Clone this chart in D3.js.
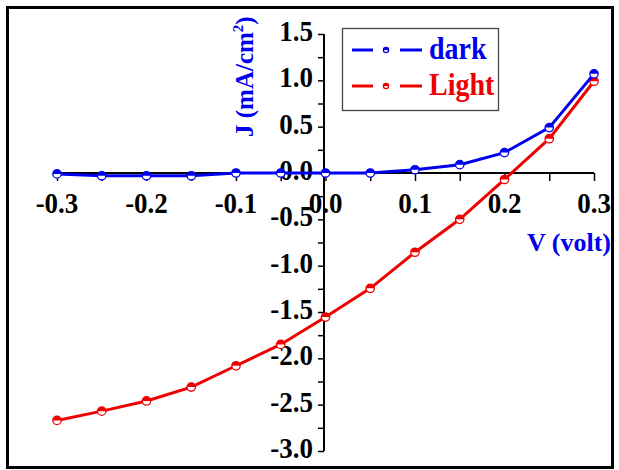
<!DOCTYPE html>
<html><head><meta charset="utf-8">
<script src="https://cdn.jsdelivr.net/npm/d3@7"></script>
<style>body{margin:0;background:#fff}svg{display:block}</style>
</head><body>
<svg id="c" width="619" height="470"></svg>
<script>
const voltage = [-0.3,-0.25,-0.2,-0.15,-0.1,-0.05,0,0.05,0.1,0.15,0.2,0.25,0.3];
const darkJ  = [-0.01,-0.03,-0.03,-0.03,0.0,0.0,0.0,0.0,0.035,0.09,0.22,0.49,1.07];
const lightJ = [-2.67,-2.57,-2.46,-2.31,-2.08,-1.85,-1.555,-1.245,-0.855,-0.5,-0.07,0.37,0.99];
const xTicks = [-0.3,-0.2,-0.1,0.0,0.1,0.2,0.3];
const yTicks = [1.5,1.0,0.5,0.0,-0.5,-1.0,-1.5,-2.0,-2.5,-3.0];
const seriesNames = ["dark","Light"];
const colors = ["#0000ee","#ee0000"];

const svg = d3.select("#c");
const x = d3.scaleLinear().domain([-0.3,0.3]).range([57,594]);
const y = d3.scaleLinear().domain([-3,1.5]).range([451,34]);
const font = "'Liberation Serif','Times New Roman',serif";
const fmt = d => d3.format(".1f")(d).replace("\u2212","-");

// frame
svg.append("rect").attr("x",7.5).attr("y",7.5).attr("width",605).attr("height",460)
  .attr("fill","none").attr("stroke","#000").attr("stroke-width",3);

// x axis at y=0
const xAxis = d3.axisBottom(x).tickValues(d3.range(-0.3,0.3001,0.05)).tickSize(8).tickFormat("");
const gx = svg.append("g").attr("transform",`translate(0,${y(0)})`).call(xAxis);
gx.select(".domain").attr("stroke-width",2).attr("d",`M${x(-0.3)},0H${x(0.3)}`);
gx.selectAll(".tick line").attr("stroke-width",1.5);
svg.append("g").selectAll("text").data(xTicks).join("text")
  .attr("transform",d=>`translate(${x(d)},213) scale(1,1.12)`).attr("text-anchor","middle")
  .attr("font-family",font).attr("font-weight","bold").attr("font-size",27)
  .text(fmt);

// y axis at x=0
const yAxis = d3.axisLeft(y).tickValues(d3.range(-3,1.5001,0.25)).tickSize(6).tickFormat("");
const gy = svg.append("g").attr("transform",`translate(${x(0)-1.5},0)`).call(yAxis);
gy.select(".domain").attr("stroke-width",2).attr("d",`M0,${y(1.5)}V${y(-3)}`);
gy.selectAll(".tick line").attr("stroke-width",1.5);
svg.append("g").selectAll("text").data(yTicks).join("text")
  .attr("transform",d=>`translate(313,${y(d)+7}) scale(1,1.12)`).attr("text-anchor","end")
  .attr("font-family",font).attr("font-weight","bold").attr("font-size",27)
  .text(fmt);

// axis titles
svg.append("text").attr("x",611).attr("y",251).attr("text-anchor","end")
  .attr("font-family",font).attr("font-weight","bold").attr("font-size",26)
  .attr("fill",colors[0]).text("V (volt)");
const yt = svg.append("text").attr("transform","translate(253,137) rotate(-90)")
  .attr("font-family",font).attr("font-weight","bold").attr("font-size",25)
  .attr("fill",colors[0]);
yt.append("tspan").text("J (mA/cm");
yt.append("tspan").attr("font-size",15).attr("dy",-10).text("2");
yt.append("tspan").attr("dy",10).text(")");

// series
const line = d3.line().x((d,i)=>x(voltage[i])).y(d=>y(d)).curve(d3.curveLinear);
function marker(g,cx,cy,c,r){
  g.append("circle").attr("cx",cx).attr("cy",cy).attr("r",r).attr("fill","#fff").attr("stroke",c).attr("stroke-width",1.3);
  g.append("path").attr("d",`M${cx-r},${cy}A${r},${r} 0 0 1 ${cx+r},${cy}Z`).attr("fill",c);
}
[lightJ,darkJ].forEach((vals,k)=>{
  const idx = k===0?1:0;
  const c = colors[idx];
  svg.append("path").datum(vals).attr("d",line).attr("fill","none").attr("stroke",c).attr("stroke-width",3);
  const g = svg.append("g");
  vals.forEach((v,i)=>marker(g,x(voltage[i]),y(v),c,4.2));
});

// legend
const lg = svg.append("g");
lg.append("rect").attr("x",342.5).attr("y",28.5).attr("width",156).attr("height",82)
  .attr("fill","#fff").attr("stroke","#444").attr("stroke-width",1.3);
seriesNames.forEach((n,i)=>{
  const cy = 50 + i*36;
  const c = colors[i];
  lg.append("line").attr("x1",352).attr("x2",373).attr("y1",cy).attr("y2",cy).attr("stroke",c).attr("stroke-width",3);
  lg.append("line").attr("x1",400).attr("x2",422).attr("y1",cy).attr("y2",cy).attr("stroke",c).attr("stroke-width",3);
  marker(lg,386,cy,c,2.6);
  lg.append("text").attr("transform",`translate(429,${cy+9}) scale(1,1.1)`).attr("font-family",font).attr("font-weight","bold")
    .attr("font-size",28).attr("fill",c).text(n);
});
</script>
</body></html>
